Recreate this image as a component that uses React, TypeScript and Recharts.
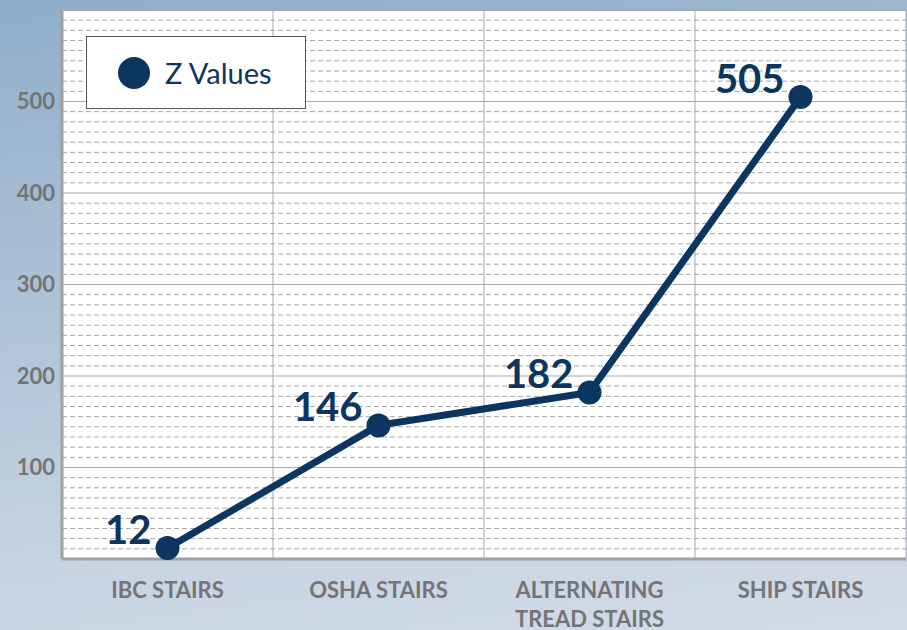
import React from "react";
import {
  CartesianGrid,
  LabelList,
  Legend,
  Line,
  LineChart,
  XAxis,
  YAxis,
} from "recharts";

const categories = ["IBC STAIRS", "OSHA STAIRS", "ALTERNATING TREAD STAIRS", "SHIP STAIRS"];
const zValues = [12, 146, 182, 505];
const yTicks = [100, 200, 300, 400, 500];
const yDomain: [number, number] = [0, 600];
const minorPerMajor = 9;

const NAVY = "#0c355f";
const GRID = "#a9a9a9";
const AXIS_TEXT = "#747474";
const FONT = "Lato, 'Open Sans', sans-serif";

const data = categories.map((name, i) => ({ name, pos: i + 0.5, z: zValues[i] }));
const catTicks = data.map((d) => d.pos);
const boundaryTicks = categories.slice(1).map((_, i) => i + 1);

// dashed minor grid: 8 lines between each pair of major lines
const minorTicks: number[] = [];
for (let v = yDomain[0]; v < yDomain[1]; v += 100) {
  for (let k = 1; k < minorPerMajor; k++) minorTicks.push(v + (k * 100) / minorPerMajor);
}

function minorCoords(props: any) {
  const { yAxis, offset } = props;
  if (yAxis && typeof yAxis.scale === "function") {
    return minorTicks.map((v) => yAxis.scale(v));
  }
  const [lo, hi] = yDomain;
  return minorTicks.map((v) => offset.top + offset.height * (1 - (v - lo) / (hi - lo)));
}

function wrapLabel(label: string, max = 14) {
  const lines: string[] = [];
  let cur = "";
  label.split(" ").forEach((w) => {
    const next = cur ? cur + " " + w : w;
    if (next.length > max && cur) {
      lines.push(cur);
      cur = w;
    } else cur = next;
  });
  if (cur) lines.push(cur);
  return lines;
}

function CategoryTick(props: any) {
  const { x, y, payload } = props;
  const label = categories[Math.floor(payload.value)] ?? "";
  return (
    <text x={x} y={y + 31} textAnchor="middle" fill={AXIS_TEXT} fontFamily={FONT} fontWeight={700} fontSize={22}>
      {wrapLabel(label).map((line, i) => (
        <tspan key={i} x={x} dy={i === 0 ? 0 : 29}>
          {line}
        </tspan>
      ))}
    </text>
  );
}

function ValueLabel(props: any) {
  const { x, y, value } = props;
  return (
    <text x={x - 16} y={y - 4} textAnchor="end" fill={NAVY} fontFamily={FONT} fontWeight={700} fontSize={40}>
      {value}
    </text>
  );
}

function LegendBox() {
  return (
    <div
      style={{
        width: 218,
        height: 71,
        background: "#fff",
        border: "1px solid #555",
        display: "flex",
        alignItems: "center",
        boxSizing: "content-box",
      }}
    >
      <span
        style={{
          display: "inline-block",
          width: 32,
          height: 32,
          borderRadius: "50%",
          background: NAVY,
          marginLeft: 31,
        }}
      />
      <span style={{ marginLeft: 15, color: NAVY, fontFamily: FONT, fontSize: 29 }}>Z Values</span>
    </div>
  );
}

export default function App() {
  return (
    <div
      style={{
        position: "fixed",
        left: 0,
        top: 0,
        width: 907,
        height: 630,
        background: "linear-gradient(172deg, #8fadca 0%, #aabfd5 35%, #c3d1df 70%, #d2dce7 100%)",
      }}
    >
      <LineChart width={907} height={630} data={data} margin={{ top: 10, right: 1, bottom: 0, left: 0 }}>
        <XAxis
          xAxisId="bounds"
          type="number"
          dataKey="pos"
          domain={[0, categories.length]}
          ticks={boundaryTicks}
          hide
        />
        <CartesianGrid
          stroke="#a8a8a8"
          strokeDasharray="5 3"
          vertical={false}
          horizontalCoordinatesGenerator={minorCoords}
          fill="#fff"
          fillOpacity={1}
        />
        <CartesianGrid xAxisId="bounds" stroke={GRID} horizontal={false} />
        <CartesianGrid stroke={GRID} vertical={false} />
        <XAxis
          type="number"
          dataKey="pos"
          domain={[0, categories.length]}
          ticks={catTicks}
          tick={<CategoryTick />}
          tickLine={false}
          axisLine={{ stroke: "#a0a0a0", strokeWidth: 3 }}
          interval={0}
          height={71}
        />
        <YAxis
          domain={yDomain}
          ticks={yTicks}
          width={62}
          tickLine={false}
          tickSize={0}
          tickMargin={7}
          axisLine={{ stroke: "#a0a0a0", strokeWidth: 3 }}
          tick={{ fill: AXIS_TEXT, fontFamily: FONT, fontWeight: 700, fontSize: 22 }}
        />
        <Legend
          layout="horizontal"
          verticalAlign="middle"
          align="center"
          content={<LegendBox />}
          wrapperStyle={{ position: "absolute", left: 86, top: 36, width: "auto", bottom: "auto" }}
        />
        <Line
          type="linear"
          dataKey="z"
          name="Z Values"
          stroke={NAVY}
          strokeWidth={7}
          dot={{ r: 12, fill: NAVY, stroke: NAVY, strokeWidth: 0 }}
          activeDot={false}
          isAnimationActive={false}
        >
          <LabelList dataKey="z" content={<ValueLabel />} />
        </Line>
      </LineChart>
      <div style={{ position: "absolute", left: 62, top: 10, width: 845, height: 1, background: GRID }} />
    </div>
  );
}
